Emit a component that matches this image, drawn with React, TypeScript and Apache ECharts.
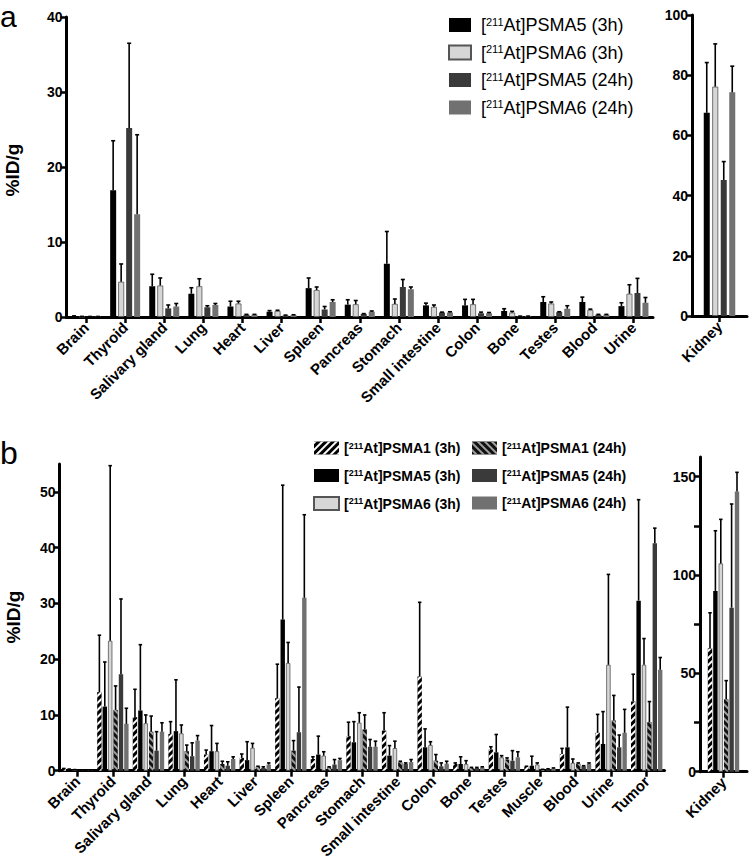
import React, { useEffect, useRef } from 'react';
import * as echarts from 'echarts';

const FONT = '"Liberation Sans", Arial, Helvetica, sans-serif';

// ---------- Panel a ----------
const catsA = ['Brain', 'Thyroid', 'Salivary gland', 'Lung', 'Heart', 'Liver', 'Spleen', 'Pancreas', 'Stomach', 'Small intestine', 'Colon', 'Bone', 'Testes', 'Blood', 'Urine'];
const namesA = ['[211At]PSMA5 (3h)', '[211At]PSMA6 (3h)', '[211At]PSMA5 (24h)', '[211At]PSMA6 (24h)'];

const a5_3h = [0.1, 16.9, 4.1, 3.1, 1.4, 0.7, 3.85, 1.65, 7.1, 1.55, 1.55, 0.8, 2.0, 2.0, 1.45];
const a5_3hHi = [0.15, 23.5, 5.7, 3.9, 2.1, 0.85, 5.2, 2.3, 11.4, 1.85, 2.35, 1.1, 2.7, 2.65, 1.9];
const a6_3h = [0.05, 4.7, 4.2, 4.1, 1.8, 0.8, 3.6, 1.7, 1.75, 1.35, 1.7, 0.6, 1.8, 0.95, 3.1];
const a6_3hHi = [0.08, 7.07, 5.2, 5.1, 2.1, 0.9, 4.0, 2.2, 2.4, 1.6, 2.35, 0.75, 2.0, 1.05, 4.3];
const a5_24h = [0.05, 25.2, 1.15, 1.3, 0.3, 0.2, 1.0, 0.4, 4.0, 0.6, 0.5, 0.1, 0.65, 0.3, 3.2];
const a5_24hHi = [0.07, 36.5, 1.6, 1.5, 0.35, 0.25, 1.4, 0.45, 5.0, 0.65, 0.65, 0.12, 0.7, 0.35, 5.15];
const a6_24h = [0.05, 13.7, 1.4, 1.6, 0.3, 0.25, 2.0, 0.7, 3.7, 0.6, 0.5, 0.1, 1.1, 0.3, 1.9];
const a6_24hHi = [0.07, 24.3, 1.8, 1.8, 0.35, 0.3, 2.3, 0.8, 4.0, 0.7, 0.6, 0.12, 1.5, 0.35, 2.6];

const kidneyA = [67.5, 76.2, 45.2, 74.3];
const kidneyAHi = [84.2, 90.4, 51.3, 83.0];

// ---------- Panel b ----------
const catsB = ['Brain', 'Thyroid', 'Salivary gland', 'Lung', 'Heart', 'Liver', 'Spleen', 'Pancreas', 'Stomach', 'Small intestine', 'Colon', 'Bone', 'Testes', 'Muscle', 'Blood', 'Urine', 'Tumor'];
const namesB = ['[211At]PSMA1 (3h)', '[211At]PSMA5 (3h)', '[211At]PSMA6 (3h)', '[211At]PSMA1 (24h)', '[211At]PSMA5 (24h)', '[211At]PSMA6 (24h)'];

const b1_3h = [0.35, 14.1, 9.6, 6.6, 2.9, 2.3, 13.0, 2.1, 6.2, 7.2, 16.9, 1.2, 3.8, 0.7, 3.0, 6.8, 12.4];
const b1_3hHi = [0.4, 24.3, 14.6, 8.8, 3.7, 3.0, 19.1, 2.5, 8.7, 10.4, 30.2, 1.4, 4.3, 0.8, 4.0, 10.1, 17.3];
const b5_3h = [0.25, 11.5, 10.8, 7.1, 3.5, 1.9, 27.1, 2.9, 5.1, 2.7, 4.2, 1.2, 3.3, 0.9, 4.2, 4.8, 30.5];
const b5_3hHi = [0.3, 19.5, 22.6, 16.3, 8.1, 5.2, 51.2, 6.2, 8.8, 4.5, 7.5, 2.5, 6.5, 2.6, 11.4, 10.6, 48.6];
const b6_3h = [0.15, 23.3, 8.5, 6.7, 3.5, 4.1, 19.3, 2.7, 8.6, 4.05, 4.6, 1.2, 2.4, 1.1, 1.4, 19.0, 19.0];
const b6_3hHi = [0.2, 54.7, 10.0, 8.2, 4.9, 4.9, 23.0, 3.4, 10.4, 5.3, 5.2, 1.8, 2.7, 1.4, 2.1, 35.2, 23.7];
const b1_24h = [0.1, 10.9, 7.0, 3.5, 1.2, 0.7, 3.6, 0.6, 7.4, 1.5, 1.8, 0.5, 2.0, 0.2, 1.25, 9.0, 8.7];
const b1_24hHi = [0.15, 15.2, 9.8, 4.6, 1.7, 0.8, 5.4, 0.7, 10.0, 1.7, 2.9, 0.6, 2.3, 0.25, 1.4, 13.5, 12.4];
const b5_24h = [0.1, 17.3, 3.6, 2.6, 0.9, 0.5, 6.9, 1.1, 4.3, 1.25, 0.8, 0.5, 1.8, 0.3, 0.8, 4.2, 40.8];
const b5_24hHi = [0.12, 30.8, 7.0, 5.0, 1.6, 0.7, 15.0, 2.0, 5.6, 1.4, 1.4, 0.6, 3.6, 0.35, 0.9, 6.4, 43.5];
const b6_24h = [0.1, 8.4, 7.0, 5.4, 2.1, 1.1, 31.0, 1.9, 4.3, 1.55, 1.25, 0.6, 2.4, 0.4, 1.25, 6.8, 18.1];
const b6_24hHi = [0.12, 11.2, 8.6, 6.3, 2.5, 1.4, 45.9, 2.2, 5.3, 2.0, 1.7, 0.7, 3.4, 0.5, 1.4, 11.0, 20.3];

const kidneyB = [62.7, 91.9, 105.9, 36.8, 83.4, 142.4];
const kidneyBHi = [80.8, 122.5, 128.3, 46.3, 136.1, 152.2];

const yTicksA = [0, 10, 20, 30, 40];
const yTicksAK = [0, 20, 40, 60, 80, 100];
const yTicksB = [0, 10, 20, 30, 40, 50];
const yTicksBK = [0, 25, 50, 75, 100, 125, 150];
const yLabelsBK = [0, 50, 100, 150];

// ---------- styles ----------
const decal3h = { symbol: 'rect', symbolSize: 1, dashArrayX: [1, 0], dashArrayY: [2, 2.5], rotation: -Math.PI / 4, color: '#ffffff' };
const decal24h = { symbol: 'rect', symbolSize: 1, dashArrayX: [1, 0], dashArrayY: [2, 2.5], rotation: Math.PI / 4, color: '#a0a0a0' };

const styleA = [
  { color: '#000000' },
  { color: '#d6d6d6', borderColor: '#555', borderWidth: 0.8 },
  { color: '#3a3a3a' },
  { color: '#717171' },
];
const styleB = [
  { color: '#000000', decal: decal3h },
  { color: '#000000' },
  { color: '#d6d6d6', borderColor: '#555', borderWidth: 0.8 },
  { color: '#111111', decal: decal24h },
  { color: '#3a3a3a' },
  { color: '#717171' },
];

function xAxisCfg(gridIndex: number, data: string[]) {
  return {
    type: 'category',
    gridIndex,
    data,
    boundaryGap: true,
    axisLine: { show: true, onZero: true, lineStyle: { color: '#000', width: 3 } },
    axisTick: { show: true, alignWithLabel: true, length: 6, lineStyle: { color: '#000', width: 2.5 } },
    axisLabel: { interval: 0, rotate: 45, fontSize: 15, fontWeight: 'bold', color: '#000', fontFamily: FONT, margin: 8 },
    splitLine: { show: false },
  };
}

function yAxisCfg(gridIndex: number, max: number, ticks: number[], labels: number[]) {
  return {
    type: 'value',
    gridIndex,
    min: 0,
    max,
    axisLine: { show: true, lineStyle: { color: '#000', width: 3 } },
    axisTick: { show: true, length: 6, lineStyle: { color: '#000', width: 2.5 }, customValues: ticks },
    axisLabel: { fontSize: 14, fontWeight: 'bold', color: '#000', fontFamily: FONT, margin: 4, customValues: labels },
    splitLine: { show: false },
  };
}

function errSeries(name: string, mean: number[], hi: number[], axisIdx: number, offset: number, capW: number) {
  return {
    type: 'custom',
    name,
    xAxisIndex: axisIdx,
    yAxisIndex: axisIdx,
    z: 5,
    silent: true,
    encode: { x: 0, y: [1, 2] },
    data: mean.map((v, i) => [i, v, hi[i]]),
    renderItem: (_p: any, api: any) => {
      const c = api.value(0);
      const p0 = api.coord([c, api.value(1)]);
      const p1 = api.coord([c, api.value(2)]);
      const x = p0[0] + offset;
      const st = { stroke: '#000', lineWidth: 1.6 };
      return {
        type: 'group',
        children: [
          { type: 'line', shape: { x1: x, y1: p0[1], x2: x, y2: p1[1] }, style: st },
          { type: 'line', shape: { x1: x - capW / 2, y1: p1[1], x2: x + capW / 2, y2: p1[1] }, style: st },
        ],
      };
    },
  };
}

function barSeries(name: string, data: number[], axisIdx: number, itemStyle: any, bw: number, gap: string) {
  return {
    type: 'bar',
    name,
    xAxisIndex: axisIdx,
    yAxisIndex: axisIdx,
    data,
    barWidth: bw,
    barGap: gap,
    itemStyle,
    z: 2,
  };
}

function buildOption() {
  const series: any[] = [];
  const meansA = [a5_3h, a6_3h, a5_24h, a6_24h];
  const hisA = [a5_3hHi, a6_3hHi, a5_24hHi, a6_24hHi];
  const offA = [-12, -4, 4, 12];
  const offAK = [-12.75, -4.25, 4.25, 12.75];
  namesA.forEach((n, i) => {
    series.push(barSeries(n, meansA[i], 0, styleA[i], 6, '33.3%'));
  });
  namesA.forEach((n, i) => {
    series.push(barSeries(n, [kidneyA[i]], 1, styleA[i], 6, '41.7%'));
  });
  namesA.forEach((n, i) => {
    series.push(errSeries(n, meansA[i], hisA[i], 0, offA[i], 4));
    series.push(errSeries(n, [kidneyA[i]], [kidneyAHi[i]], 1, offAK[i], 4));
  });

  const meansB = [b1_3h, b5_3h, b6_3h, b1_24h, b5_24h, b6_24h];
  const hisB = [b1_3hHi, b5_3hHi, b6_3hHi, b1_24hHi, b5_24hHi, b6_24hHi];
  const offB = [-13.5, -8.1, -2.7, 2.7, 8.1, 13.5];
  namesB.forEach((n, i) => {
    series.push(barSeries(n, meansB[i], 2, styleB[i], 4.4, '22.7%'));
  });
  namesB.forEach((n, i) => {
    series.push(barSeries(n, [kidneyB[i]], 3, styleB[i], 4.4, '22.7%'));
  });
  namesB.forEach((n, i) => {
    series.push(errSeries(n, meansB[i], hisB[i], 2, offB[i], 3.5));
    series.push(errSeries(n, [kidneyB[i]], [kidneyBHi[i]], 3, offB[i], 3.5));
  });

  const fmt = (name: string) => name.replace('211', '{sup|211}');
  const legendB = (data: string[], left: number) => ({
    data,
    orient: 'vertical',
    left,
    top: 441,
    padding: 0,
    itemWidth: 25,
    itemHeight: 13,
    itemGap: 13.5,
    icon: 'rect',
    selectedMode: false,
    formatter: fmt,
    textStyle: {
      fontSize: 14, fontWeight: 'bold', color: '#000', fontFamily: FONT,
      rich: { sup: { fontSize: 9, fontWeight: 'bold', verticalAlign: 'top', lineHeight: 10, color: '#000', fontFamily: FONT } },
    },
  });

  return {
    animation: false,
    backgroundColor: '#ffffff',
    textStyle: { fontFamily: FONT },
    grid: [
      { left: 66.5, top: 17, width: 586.5, height: 300 },
      { left: 692, top: 15, width: 55, height: 301 },
      { left: 59.5, top: 464, width: 605, height: 308 },
      { left: 700, top: 457, width: 47, height: 314.7 },
    ],
    xAxis: [xAxisCfg(0, catsA), xAxisCfg(1, ['Kidney']), xAxisCfg(2, catsB), xAxisCfg(3, ['Kidney'])],
    yAxis: [
      yAxisCfg(0, 40, yTicksA, yTicksA),
      yAxisCfg(1, 100, yTicksAK, yTicksAK),
      yAxisCfg(2, 55, yTicksB, yTicksB),
      yAxisCfg(3, 160, yTicksBK, yLabelsBK),
    ],
    legend: [
      {
        data: namesA,
        orient: 'vertical',
        left: 448,
        top: 16,
        padding: 0,
        itemWidth: 22,
        itemHeight: 14,
        itemGap: 9.5,
        icon: 'rect',
        selectedMode: false,
        formatter: fmt,
        textStyle: {
          fontSize: 18, color: '#000', fontFamily: FONT, padding: [0, 0, 0, 5],
          rich: { sup: { fontSize: 11, verticalAlign: 'top', lineHeight: 12, color: '#000', fontFamily: FONT } },
        },
      },
      legendB(namesB.slice(0, 3), 313),
      legendB(namesB.slice(3), 472),
    ],
    graphic: [
      { type: 'text', x: 0, y: 1, style: { text: 'a', fontSize: 30, fontFamily: FONT, fill: '#000', verticalAlign: 'top' } },
      { type: 'text', left: 0, top: 437, style: { text: 'b', fontSize: 32, fontFamily: FONT, fill: '#000' } },
      { type: 'text', x: 12, y: 170, rotation: Math.PI / 2, style: { text: '%ID/g', fontSize: 19, fontWeight: 'bold', fontFamily: FONT, fill: '#000', align: 'center', verticalAlign: 'middle' } },
      { type: 'text', x: 13, y: 617, rotation: Math.PI / 2, style: { text: '%ID/g', fontSize: 19, fontWeight: 'bold', fontFamily: FONT, fill: '#000', align: 'center', verticalAlign: 'middle' } },
    ],
    series,
  };
}

export default function App() {
  const ref = useRef<HTMLDivElement>(null);
  useEffect(() => {
    const chart = echarts.init(ref.current!, null, { renderer: 'svg' });
    chart.setOption(buildOption() as any);
    return () => chart.dispose();
  }, []);
  return <div ref={ref} style={{ position: 'absolute', left: 0, top: 0, width: 749, height: 861, background: '#fff' }} />;
}
